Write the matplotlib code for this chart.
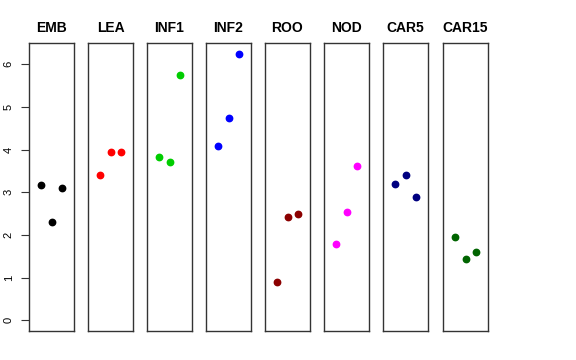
import matplotlib
matplotlib.use("Agg")
import matplotlib.pyplot as plt

plt.rcParams["font.family"] = ["Liberation Sans", "DejaVu Sans"]

# panel names, colours and the three values per panel
groups = ["EMB", "LEA", "INF1", "INF2", "ROO", "NOD", "CAR5", "CAR15"]
colors = ["black", "red", "#00CD00", "blue", "#8B0000", "magenta", "#000080", "#006400"]
values = [
    [3.17, 2.31, 3.11],
    [3.41, 3.95, 3.95],
    [3.82, 3.70, 5.74],
    [4.08, 4.74, 6.24],
    [0.90, 2.43, 2.49],
    [1.79, 2.54, 3.61],
    [3.20, 3.40, 2.88],
    [1.95, 1.43, 1.59],
]
yticks = [0, 1, 2, 3, 4, 5, 6]

W, H = 576, 360
fig = plt.figure(figsize=(W / 100, H / 100), dpi=100)

lefts = [29, 88, 147, 206, 265, 324, 383, 443]
for i, name in enumerate(groups):
    ax = fig.add_axes([lefts[i] / W, 29 / H, 45 / W, 288 / H])
    ax.plot([1, 2, 3], values[i], "o", color=colors[i], markersize=4.6)
    ax.set_xlim(-0.16, 4.16)
    ax.set_ylim(-0.25, 6.5)
    ax.set_xticks([])
    ax.set_title(name, fontsize=10, fontweight="bold", pad=8)
    for s in ax.spines.values():
        s.set_color("#333333")
        s.set_linewidth(1)
    if i == 0:
        ax.set_yticks(yticks)
        ax.set_yticklabels([str(t) for t in yticks], rotation=90, va="center", fontsize=8)
        ax.tick_params(axis="y", length=6, pad=5, color="#333333")
    else:
        ax.set_yticks([])

plt.savefig("out.png", dpi=100)
